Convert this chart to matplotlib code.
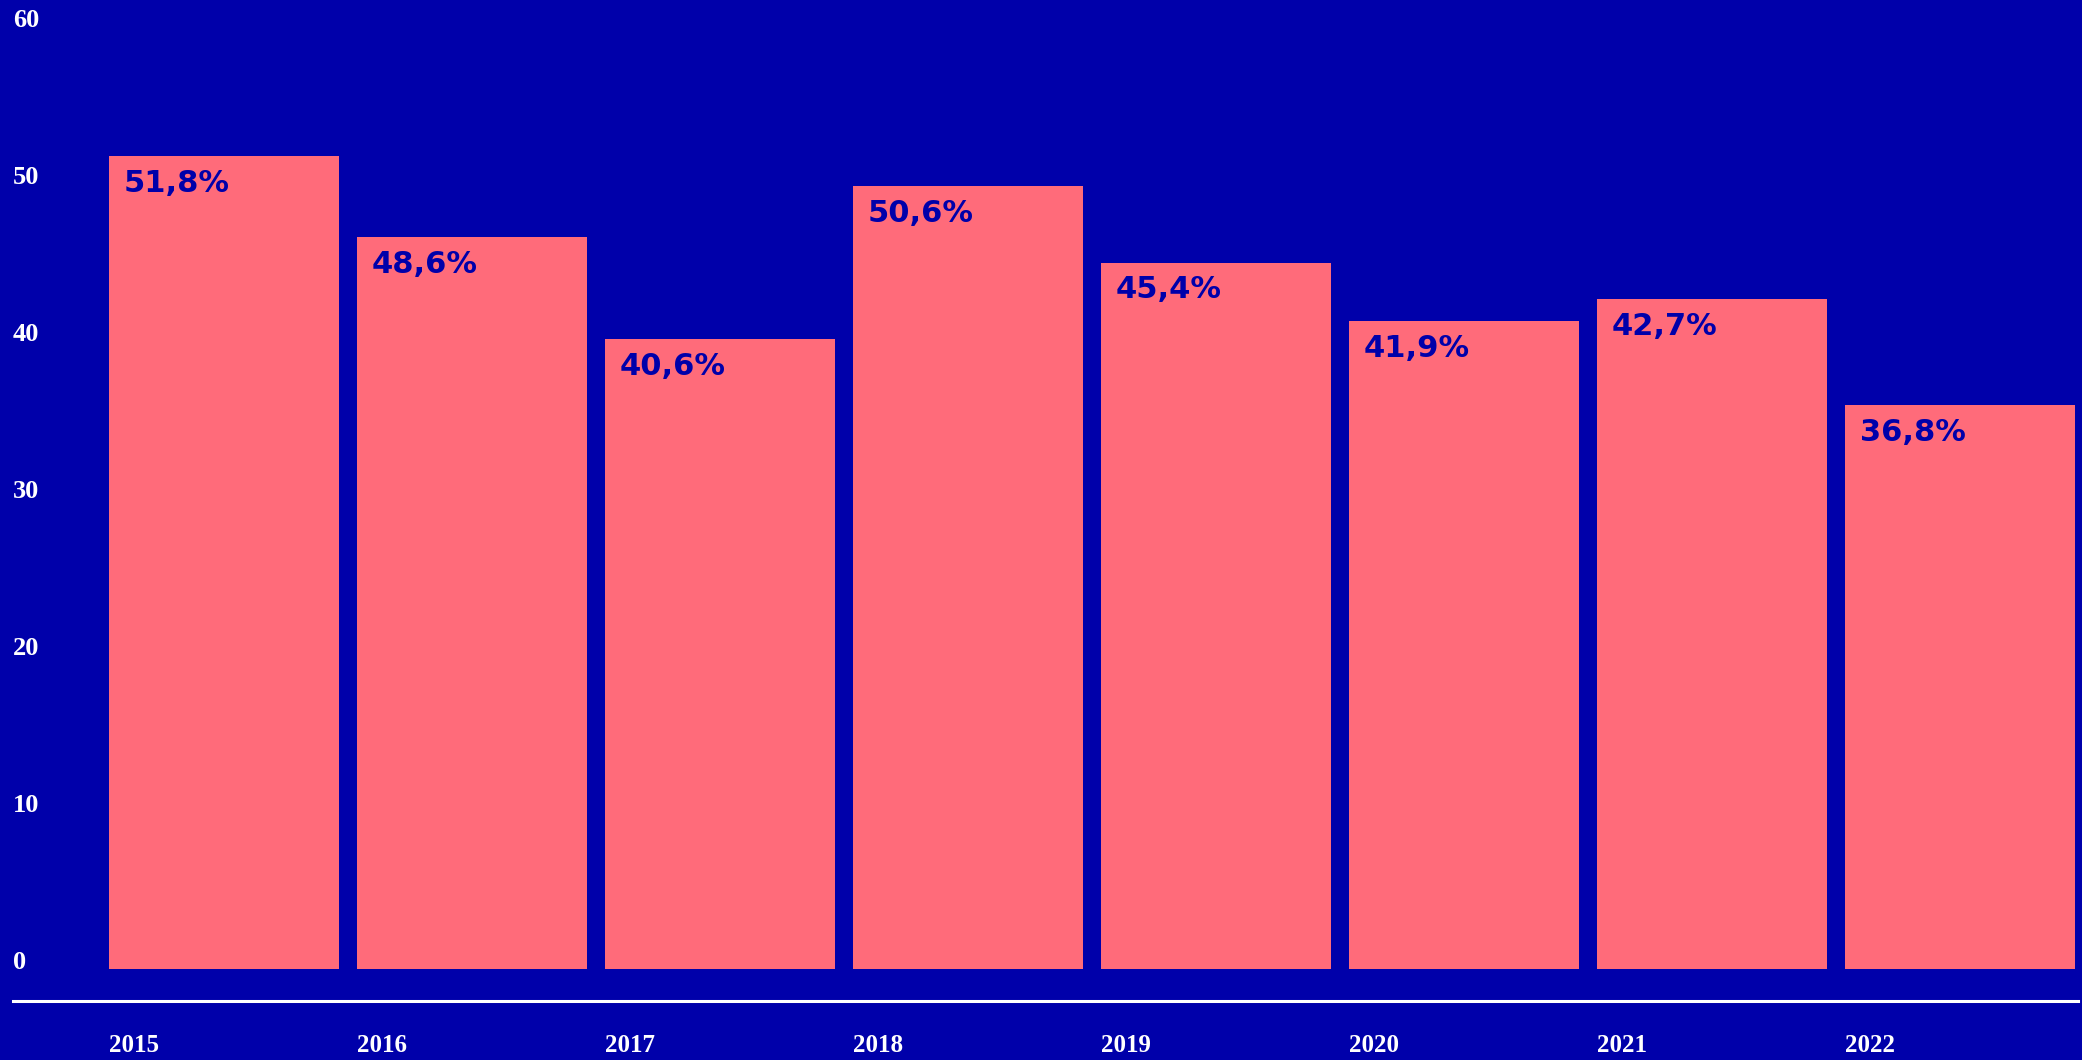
import numpy as np
import matplotlib
matplotlib.use('Agg')
import matplotlib.pyplot as plt

years = ['2015', '2016', '2017', '2018', '2019', '2020', '2021', '2022']
# bar heights as drawn in the picture
heights = [51.8, 46.6, 40.1, 49.9, 45.0, 41.3, 42.7, 35.9]
# labels written on the bars
labels = ['51,8%', '48,6%', '40,6%', '50,6%', '45,4%', '41,9%', '42,7%', '36,8%']
yticks = [0, 10, 20, 30, 40, 50, 60]

bg = '#0000AA'
bar_color = '#FF6B7A'

fig = plt.figure(figsize=(20.82, 10.6), dpi=100, facecolor=bg)
ax = fig.add_axes([13/2082, 91/1060, 2065/2082, 942/1060])
ax.set_facecolor(bg)

# spines first: moving a spine resets the tick labels
for s in ['top', 'right', 'left']:
    ax.spines[s].set_visible(False)
ax.spines['bottom'].set_color('white')
ax.spines['bottom'].set_linewidth(2.2)
ax.spines['bottom'].set_position(('outward', 23))

x = np.arange(len(years))
ax.bar(x, heights, width=230/248, align='edge', color=bar_color, zorder=2)

# value labels in the top left corner of each bar
for xi, h, lab in zip(x, heights, labels):
    ax.annotate(lab, (xi, h), xytext=(15, -13), textcoords='offset pixels',
                ha='left', va='top', color=bg, fontsize=22, fontweight='heavy',
                family='DejaVu Sans', zorder=3)

ax.set_xlim(-96/248, (2078-109)/248)
ax.set_ylim(0, 60)

ax.tick_params(axis='y', length=0, pad=0, labelcolor='white')
ax.tick_params(axis='x', length=0, pad=24, labelcolor='white')

ax.set_xticks(x)
ax.set_xticklabels(years, ha='left', family='Liberation Serif',
                   fontweight='bold', fontsize=18, color='white')
ax.set_yticks(yticks)
ax.set_yticklabels([str(t) for t in yticks], family='Liberation Serif',
                   fontweight='bold', fontsize=19, color='white')
for lab in ax.get_yticklabels():
    lab.set_ha('left')
    lab.set_va('baseline')

fig.savefig('out.png', dpi=100, facecolor=bg)
